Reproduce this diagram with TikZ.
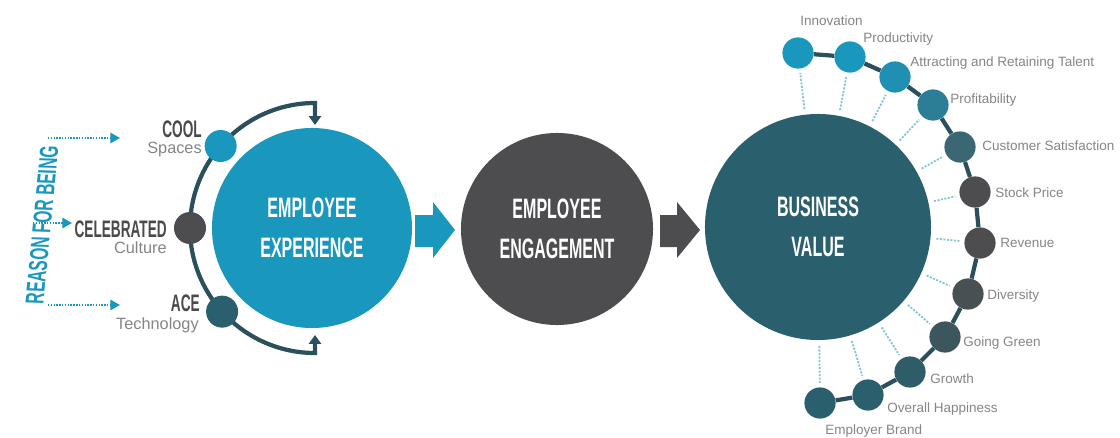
\documentclass[tikz,border=0pt]{standalone}
\usepackage{fontspec}
\setmainfont{Liberation Sans}
\newfontfamily\condfont[FakeStretch=0.57]{Liberation Sans}
\usetikzlibrary{arrows.meta, positioning, calc}
\definecolor{cteal}{HTML}{1A97BC}
\definecolor{cgrey}{HTML}{4D4D4F}
\definecolor{cdark}{HTML}{2A5F6E}
\definecolor{cline}{HTML}{2B4F5C}
\definecolor{ctext}{HTML}{4A4A4A}
\definecolor{clight}{HTML}{858585}
\definecolor{cdots}{HTML}{86C6D2}
\tikzset{
  big/.style={circle, fill=#1, text=white, align=center, minimum size=5cm, inner sep=0pt,
    font=\condfont\bfseries\fontsize{20}{28}\selectfont},
  dot/.style={circle, fill=#1, minimum size=0.78cm, inner sep=0pt},
  head/.style={font=\condfont\bfseries\fontsize{17}{18}\selectfont, text=ctext, inner sep=0pt, anchor=base east},
  sub/.style={font=\fontsize{11.6}{12}\selectfont, text=clight, inner sep=0pt, anchor=base east},
  val/.style={font=\fontsize{9.6}{10}\selectfont, text=clight, inner sep=0pt, anchor=base west},
  bracket/.style={draw=cline, line width=3pt, {Triangle[length=2.2mm, width=3mm]}-{Triangle[length=2.2mm, width=3mm]}},
  feed/.style={draw=cteal, line width=1.1pt, dash pattern=on 1pt off 1pt, -{Triangle[length=2.4mm, width=2.6mm]}},
  chain/.style={draw=cline, line width=3pt},
  link/.style={draw=cdots, line width=1.3pt, dash pattern=on 1.5pt off 1pt, shorten <=4pt, shorten >=3pt},
}

\begin{document}
\begin{tikzpicture}[x=0.025cm, y=0.025cm]
  \useasboundingbox (0,0) rectangle (1120,437);
  % ---------------- the three stages
  \node[big=cteal] (ee) at (312,209) {EMPLOYEE\\EXPERIENCE};
  \node[big=cgrey, minimum size=4.8cm] (eg) at (557,208) {EMPLOYEE\\ENGAGEMENT};
  \node[big=cdark, minimum size=5.65cm] (bv) at (818,210) {BUSINESS\\VALUE};
  \fill[cteal] (415,222) -- (433,222) -- (433,235) -- (455,207) -- (433,179) -- (433,190) -- (415,190) -- cycle;
  \fill[cgrey] (660,222) -- (677,222) -- (677,235) -- (700,207) -- (677,179) -- (677,190) -- (660,190) -- cycle;

  % ---------------- left bracket
  \coordinate (brk) at (315,209);
  \draw[bracket] (315,312) -- (315,334) arc[start angle=90, end angle=270, radius=125] -- (315,102);
  \node[dot=cteal, minimum size=0.8cm] (cool) at ([shift={(139:125)}]brk) {};
  \node[dot=cgrey, minimum size=0.8cm] (cel) at ([shift={(180:125)}]brk) {};
  \node[dot=cdark, minimum size=0.8cm] (ace) at ([shift={(222:125)}]brk) {};
  \node[head] (coolt) at (202,300) {COOL};
  \node[sub] (spaces) at (202,284) {Spaces};
  \node[head] (celt) at (167,200) {CELEBRATED};
  \node[sub] (culture) at (167,184) {Culture};
  \node[head] (acet) at (200,126) {ACE};
  \node[sub] (tech) at (199,108) {Technology};

  % ---------------- reason for being
  \node[yscale=0.6, rotate=86.7, inner sep=0pt, text=cteal, font=\bfseries\fontsize{18.5}{19}\selectfont] (why) at (42,212) {REASON FOR BEING};
  \coordinate (f1) at (48,299);  \coordinate (g1) at (120,299);
  \coordinate (f2) at (33,214);  \coordinate (g2) at (72,214);
  \coordinate (f3) at (48,132);  \coordinate (g3) at (120,132);
  \draw[feed] (f1) -- (g1);
  \draw[feed] (f2) -- (g2);
  \draw[feed] (f3) -- (g3);

  % ---------------- value chain
  \node[dot=cteal] (d1) at (798,384) {};
  \node[dot=cteal] (d2) at (850,380) {};
  \node[dot=cteal!90!cgrey] (d3) at (895,360) {};
  \node[dot=cteal!65!cgrey] (d4) at (933,332) {};
  \node[dot=cteal!35!cgrey] (d5) at (960,290) {};
  \node[dot=cgrey] (d6) at (975,245) {};
  \node[dot=cgrey] (d7) at (980,194) {};
  \node[dot=cgrey!85!cdark] (d8) at (968,143) {};
  \node[dot=cgrey!50!cdark] (d9) at (945,100) {};
  \node[dot=cdark!85!cgrey] (d10) at (910,65) {};
  \node[dot=cdark] (d11) at (868,42) {};
  \node[dot=cdark] (d12) at (820,34) {};
  \draw[chain] (d1) -- (d2) -- (d3) -- (d4) -- (d5) -- (d6) -- (d7) -- (d8) -- (d9) -- (d10) -- (d11) -- (d12);
  \draw[link] (bv) -- (d1);
  \draw[link] (bv) -- (d2);
  \draw[link] (bv) -- (d3);
  \draw[link] (bv) -- (d4);
  \draw[link] (bv) -- (d5);
  \draw[link] (bv) -- (d6);
  \draw[link] (bv) -- (d7);
  \draw[link] (bv) -- (d8);
  \draw[link] (bv) -- (d9);
  \draw[link] (bv) -- (d10);
  \draw[link] (bv) -- (d11);
  \draw[link] (bv) -- (d12);
  \node[val] (t1) at (800,412) {Innovation};
  \node[val] (t2) at (863,395) {Productivity};
  \node[val] (t3) at (910,371) {Attracting and Retaining Talent};
  \node[val] (t4) at (950,334) {Profitability};
  \node[val] (t5) at (982,287) {Customer Satisfaction};
  \node[val] (t6) at (995,240) {Stock Price};
  \node[val] (t7) at (1000,190) {Revenue};
  \node[val] (t8) at (987,138) {Diversity};
  \node[val] (t9) at (963,91) {Going Green};
  \node[val] (t10) at (930,54) {Growth};
  \node[val] (t11) at (887,25) {Overall Happiness};
  \node[val] (t12) at (825,3) {Employer Brand};
\end{tikzpicture}
\end{document}
